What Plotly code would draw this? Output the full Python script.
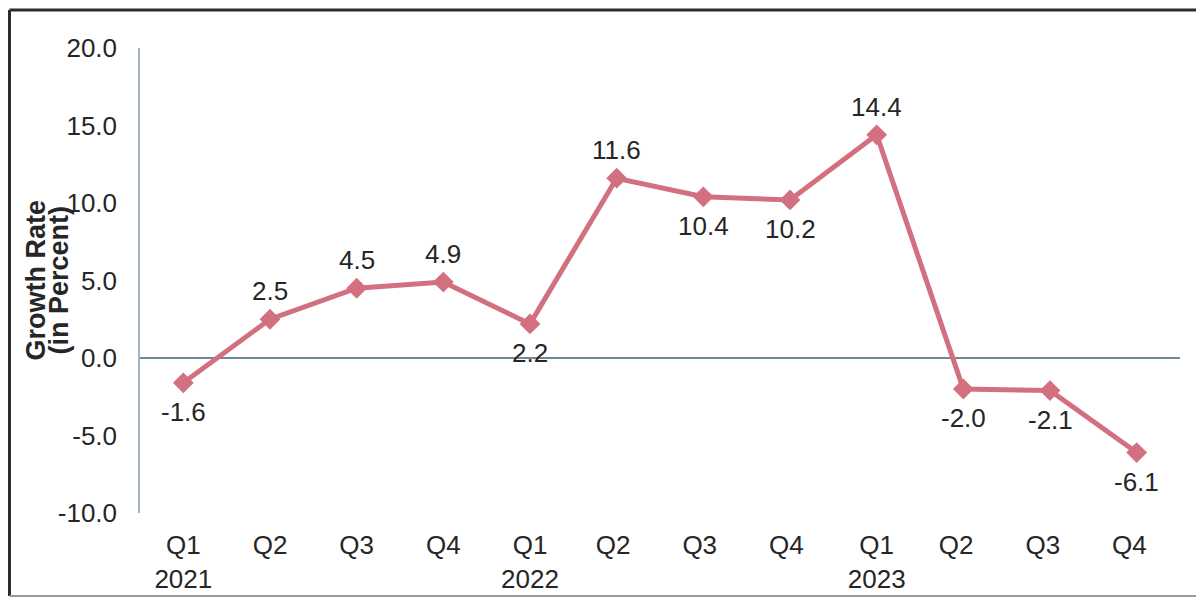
import plotly.graph_objects as go

quarters = ["Q1<br>2021", "Q2", "Q3", "Q4", "Q1<br>2022", "Q2 ", "Q3 ", "Q4 ",
            "Q1<br>2023", "Q2  ", "Q3  ", "Q4  "]
growth = [-1.6, 2.5, 4.5, 4.9, 2.2, 11.6, 10.4, 10.2, 14.4, -2.0, -2.1, -6.1]
label_above = [False, True, True, True, False, True, False, False,
               True, False, False, False]
y_ticks = [-10, -5, 0, 5, 10, 15, 20]
title_lines = ["Growth Rate", "(in Percent)"]

# page has an 8px body margin; figure is sized to fill the rest of the window
W, H = 1196, 598
L, R, T, B = 132, 24, 40, 88
pw, ph = W - L - R, H - T - B

fig = go.Figure()
fig.add_trace(go.Scatter(
    x=list(range(len(quarters))), y=growth,
    mode="lines+markers",
    line=dict(color="#d3707f", width=5),
    marker=dict(symbol="diamond", size=16, color="#d3707f"),
    cliponaxis=False,
    showlegend=False,
))

annotations = [dict(
    x=i, y=v, xref="x", yref="y", text=f"{v:.1f}", showarrow=False,
    xanchor="center", yanchor="middle", yshift=28 if up else -29,
    font=dict(size=26, color="#262626"),
) for i, (v, up) in enumerate(zip(growth, label_above))]

title_x = [27, 50]
annotations += [dict(
    text=f"<b>{t}</b>", textangle=-90, xref="paper", yref="paper",
    x=(fx - L) / pw, y=0.5, xanchor="center", yanchor="middle",
    showarrow=False, font=dict(size=27, color="#262626"),
) for t, fx in zip(title_lines, title_x)]


def px_x(p):
    return (p - L) / pw


def px_y(p):
    return (H - B - p) / ph


x_left, x_right, y_top, y_bot = 1.5, 1194, 1.5, 594
shapes = [
    dict(type="line", xref="paper", yref="paper", x0=px_x(x_left), x1=px_x(x_right),
         y0=px_y(y_top), y1=px_y(y_top), line=dict(color="#2b2b2b", width=3)),
    dict(type="line", xref="paper", yref="paper", x0=px_x(x_left), x1=px_x(x_left),
         y0=px_y(y_top), y1=px_y(y_bot), line=dict(color="#2b2b2b", width=3)),
    dict(type="line", xref="paper", yref="paper", x0=px_x(x_left), x1=px_x(x_right),
         y0=px_y(y_bot), y1=px_y(y_bot), line=dict(color="#9a9a9a", width=2)),
    dict(type="line", xref="paper", yref="paper", x0=px_x(x_right), x1=px_x(x_right),
         y0=px_y(y_top), y1=px_y(y_bot), line=dict(color="#ececec", width=2)),
]

fig.update_layout(
    width=W, height=H,
    margin=dict(l=L, r=R, t=T, b=B),
    paper_bgcolor="white", plot_bgcolor="white",
    font=dict(family="Liberation Sans, Arial", size=26, color="#262626"),
    xaxis=dict(
        range=[-0.5, len(quarters) - 0.5],
        tickmode="array", tickvals=list(range(len(quarters))), ticktext=quarters,
        showgrid=False, zeroline=False, showline=False, ticks="",
        tickfont=dict(size=26, color="#262626"),
        ticklabelstandoff=14,
    ),
    yaxis=dict(
        range=[-10, 20],
        tickmode="array", tickvals=y_ticks, ticktext=[f"{v:.1f}" for v in y_ticks],
        showgrid=False, showline=True, linecolor="#a3b3c0", linewidth=1.5,
        zeroline=True, zerolinecolor="#6f8797", zerolinewidth=1.5,
        ticks="", tickfont=dict(size=26, color="#262626"),
        ticklabelstandoff=16,
    ),
    annotations=annotations,
    shapes=shapes,
)

fig.write_html("out.html")
